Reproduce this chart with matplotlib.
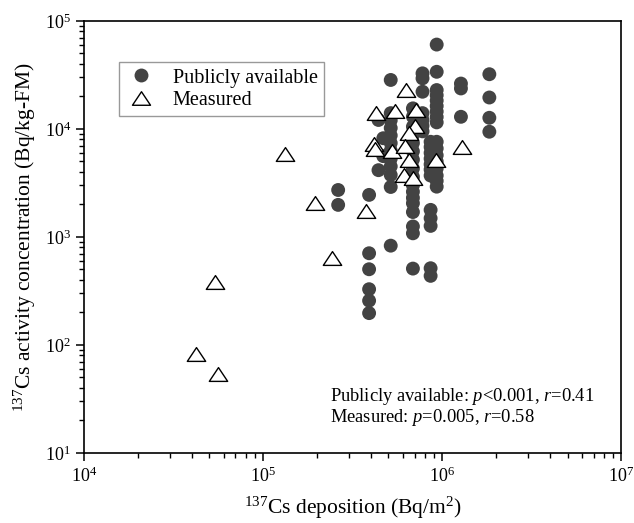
import matplotlib
matplotlib.use("Agg")
import matplotlib.pyplot as plt
from matplotlib.lines import Line2D
from matplotlib.path import Path

plt.rcParams["font.family"] = ["Liberation Serif", "DejaVu Serif"]
plt.rcParams["mathtext.fontset"] = "custom"
plt.rcParams["mathtext.rm"] = "Liberation Serif"
plt.rcParams["mathtext.it"] = "Liberation Serif:italic"

# publicly available data, grouped by deposition value (Bq/m2)
pub_dep = [2.62e5, 3.9e5, 4.4e5, 4.68e5, 5.15e5, 6.85e5, 7.75e5, 8.6e5, 9.3e5, 1.27e6, 1.83e6]
pub_conc = [
    [2720, 1980],
    [2450, 706, 502, 328, 257, 197],
    [12100, 4150],
    [8200, 5600],
    [28400, 14000, 12000, 10200, 8700, 7400, 6300, 5300, 4500, 3750, 2900, 830],
    [15500, 13000, 10500, 8800, 7400, 6200, 5200, 4300, 3600, 3000, 2620, 2300,
     2050, 1700, 1250, 1080, 509],
    [32700, 29400, 22100, 14000, 12100, 10700, 9500],
    [7600, 6800, 6000, 5300, 4700, 4200, 3700, 1780, 1490, 1265, 513, 436],
    [60400, 33800, 22900, 20500, 18300, 16300, 14500, 12900, 11500, 7600, 6600,
     5700, 5000, 4300, 3700, 3300, 2920],
    [26300, 23700, 12950],
    [32100, 19540, 12680, 9420],
]

# measured data
meas_dep = [4.2e4, 5.6e4, 5.4e4, 2.43e5, 1.33e5, 1.95e5, 3.77e5, 4.27e5, 4.18e5, 4.2e5,
            5.42e5, 5.25e5, 6.25e5, 7.1e5, 7.03e5, 6.52e5, 6.17e5, 6.54e5, 6.1e5, 6.84e5,
            9.2e5, 1.28e6]
meas_conc = [83, 54, 386, 644, 5850, 2075, 1727, 13900, 7200, 6550,
             14800, 6230, 23100, 14900, 10550, 9130, 6900, 5120, 3750, 3500,
             5150, 6840]

pub_x, pub_y = [], []
for d, vals in zip(pub_dep, pub_conc):
    pub_x += [d] * len(vals)
    pub_y += vals

TRI = Path([(0, 0.75), (-1, -0.75), (1, -0.75), (0, 0.75)], closed=True)
DARK = "#434343"

fig = plt.figure(figsize=(6.34, 5.23), dpi=100)
ax = fig.add_axes([0.1327, 0.134, 0.8475, 0.826])

ax.scatter(pub_x, pub_y, s=100, color=DARK, edgecolors="none", zorder=2)
ax.scatter(meas_dep, meas_conc, s=175, marker=TRI, facecolors="white",
           edgecolors="black", linewidths=1.0, zorder=3)

ax.set_xscale("log")
ax.set_yscale("log")
ax.set_xlim(1e4, 1e7)
ax.set_ylim(1e1, 1e5)

for s in ("top", "right", "left", "bottom"):
    ax.spines[s].set_linewidth(1.2)
ax.tick_params(which="major", direction="out", length=6, width=1.1,
               labelsize=13, top=False, right=False)
ax.tick_params(which="minor", direction="out", length=3.5, width=1.0,
               top=False, right=False)

ax.set_xlabel(r"$^{137}$Cs deposition (Bq/m$^2$)", fontsize=15.5, labelpad=7)
ax.set_ylabel(r"$^{137}$Cs activity concentration (Bq/kg-FM)", fontsize=15.5, labelpad=5)

handles = [
    Line2D([], [], marker="o", linestyle="none", markersize=10,
           markerfacecolor=DARK, markeredgecolor="none"),
    Line2D([], [], marker=TRI, linestyle="none", markersize=13,
           markerfacecolor="white", markeredgecolor="black", markeredgewidth=1.0),
]
leg = ax.legend(handles, ["Publicly available", "Measured"], loc="upper left",
                bbox_to_anchor=(0.064, 0.904), borderaxespad=0, fontsize=14.5,
                fancybox=False, framealpha=1, edgecolor="#999999",
                handlelength=1.6, handletextpad=0.8, borderpad=0.3,
                labelspacing=0.15)
leg.get_frame().set_linewidth(1.0)

ax.text(0.458, 0.130, r"Publicly available: $p$<0.001, $r$=0.41",
        transform=ax.transAxes, fontsize=13.3, va="center", ha="left")
ax.text(0.458, 0.081, r"Measured: $p$=0.005, $r$=0.58",
        transform=ax.transAxes, fontsize=13.3, va="center", ha="left")

fig.savefig("out.png", dpi=100)
